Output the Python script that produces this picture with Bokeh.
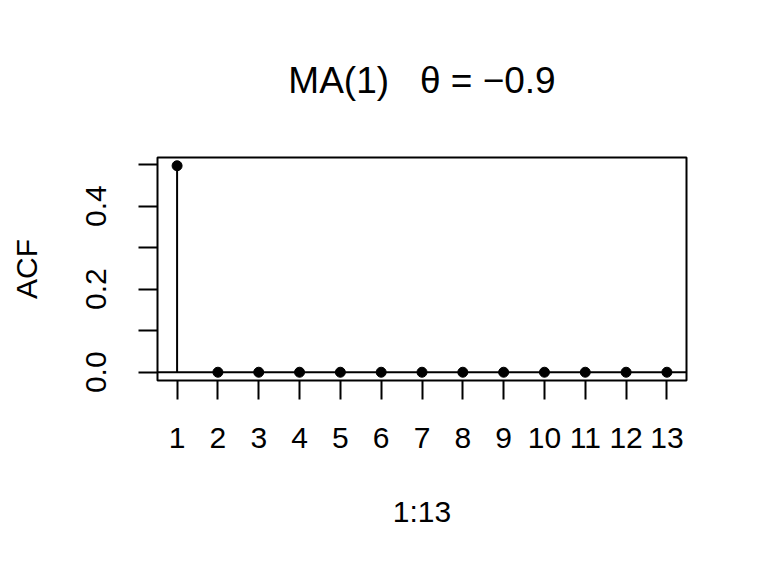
import math
from bokeh.plotting import figure
from bokeh.models import Range1d, FixedTicker, Span, Title
from bokeh.embed import file_html
from bokeh.resources import INLINE

# data
lags = list(range(1, 14))
acf = [0.497, 0, 0, 0, 0, 0, 0, 0, 0, 0, 0, 0, 0]
x_ticks = list(range(1, 14))
y_ticks = [0.0, 0.1, 0.2, 0.3, 0.4, 0.5]
y_tick_labels = ["0.0", "", "0.2", "", "0.4", ""]
title_text = "MA(1)\u00a0\u00a0\u00a0θ\u00a0=\u00a0−0.9"

FONT = "Liberation Sans"

p = figure(width=768, height=576, output_backend="svg", toolbar_location=None,
           x_range=Range1d(0.52, 13.48), y_range=Range1d(-0.0199, 0.5169),
           min_border_left=157, min_border_right=82, min_border_top=157, min_border_bottom=196)
p.grid.visible = False
p.outline_line_color = "black"
p.outline_line_width = 2
p.background_fill_color = "white"
p.border_fill_color = "white"

for ax in (p.xaxis[0], p.yaxis[0]):
    ax.axis_line_color = None
    ax.major_tick_line_color = "black"
    ax.major_tick_line_width = 2
    ax.major_tick_in = 0
    ax.major_tick_out = 19
    ax.minor_tick_line_color = None
    ax.major_label_text_font = FONT
    ax.major_label_text_font_size = "30px"
    ax.major_label_text_color = "black"
    ax.axis_label_text_font = FONT
    ax.axis_label_text_font_size = "30px"
    ax.axis_label_text_font_style = "normal"
    ax.axis_label_text_color = "black"

p.xaxis.ticker = FixedTicker(ticks=x_ticks)
p.xaxis.major_label_standoff = 28
p.xaxis.axis_label = "1:13"
p.xaxis.axis_label_standoff = 44

p.yaxis.ticker = FixedTicker(ticks=y_ticks)
p.yaxis.major_label_overrides = {t: l for t, l in zip(y_ticks, y_tick_labels)}
p.yaxis.major_label_orientation = "parallel"
p.yaxis.major_label_standoff = 32
p.yaxis.axis_label = "ACF"
p.yaxis.axis_label_standoff = 41

p.add_layout(Span(location=0, dimension="width", line_color="black", line_width=2))
p.segment(x0=lags, y0=[0] * len(lags), x1=lags, y1=acf, line_color="black", line_width=2)
p.scatter(lags, acf, size=10, color="black")

p.title = Title(text=title_text, text_font=FONT, text_font_size="37px",
                text_font_style="normal", text_color="black", align="center",
                vertical_align="middle", standoff=112)

open("out.html", "w").write(file_html(p, INLINE))
